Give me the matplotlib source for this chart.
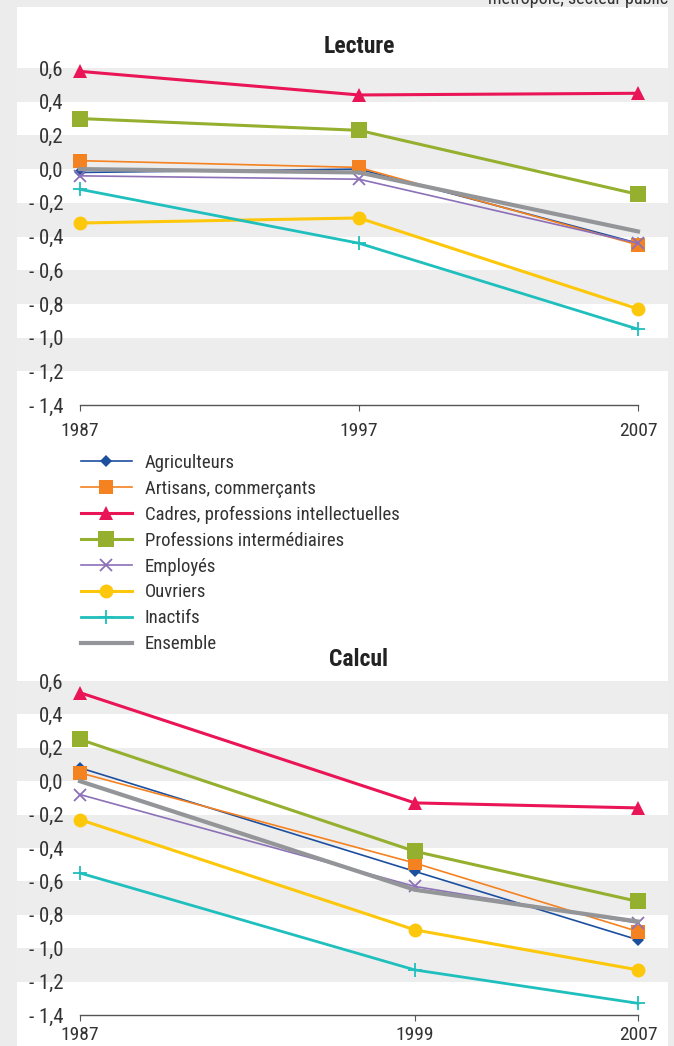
import matplotlib
matplotlib.use('Agg')
import matplotlib.pyplot as plt
from matplotlib.patches import Rectangle
from matplotlib.lines import Line2D

plt.rcParams['font.family'] = ['Liberation Sans Narrow', 'Roboto Condensed', 'DejaVu Sans']
plt.rcParams['font.stretch'] = 'condensed'

# data
categories = ['Agriculteurs', 'Artisans, commerçants', 'Cadres, professions intellectuelles',
              'Professions intermédiaires', 'Employés', 'Ouvriers', 'Inactifs', 'Ensemble']
years_lecture = [1987, 1997, 2007]
years_calcul = [1987, 1999, 2007]

lecture_agri = [-0.02, 0.00, -0.44]
lecture_arti = [0.05, 0.01, -0.45]
lecture_cadres = [0.58, 0.44, 0.45]
lecture_prof = [0.30, 0.23, -0.15]
lecture_empl = [-0.04, -0.06, -0.44]
lecture_ouvr = [-0.32, -0.29, -0.83]
lecture_inact = [-0.12, -0.44, -0.95]
lecture_ens = [0.00, -0.02, -0.37]

calcul_agri = [0.08, -0.54, -0.95]
calcul_arti = [0.05, -0.49, -0.90]
calcul_cadres = [0.53, -0.13, -0.16]
calcul_prof = [0.25, -0.42, -0.72]
calcul_empl = [-0.08, -0.63, -0.85]
calcul_ouvr = [-0.23, -0.89, -1.13]
calcul_inact = [-0.55, -1.13, -1.33]
calcul_ens = [0.00, -0.65, -0.84]

y_ticks = [0.6, 0.4, 0.2, 0.0, -0.2, -0.4, -0.6, -0.8, -1.0, -1.2, -1.4]
y_labels = ['0,6', '0,4', '0,2', '0,0', '- 0,2', '- 0,4', '- 0,6', '- 0,8', '- 1,0', '- 1,2', '- 1,4']

# style per series: color, marker, markersize, linewidth
styles = [
    ('#1d4f9f', 'D', 6, 1.2),
    ('#f58220', 's', 10, 1.2),
    ('#ea1556', '^', 10, 2.2),
    ('#95af2f', 's', 11, 2.2),
    ('#8c70b8', 'x', 9, 1.2),
    ('#fdc70c', 'o', 10, 2.2),
    ('#1fbfbd', '+', 10, 2.0),
    ('#939598', None, 0, 3.0),
]

W, H = 674, 1046
fig = plt.figure(figsize=(W / 100, H / 100), dpi=100)
fig.patch.set_facecolor('#ececec')
fig.patches.append(Rectangle((17 / W, 0), (668 - 17) / W, 1 - 7 / H,
                             transform=fig.transFigure, facecolor='white',
                             edgecolor='none', zorder=-10))
fig.text(668 / W, 1.0 - 4 / H, 'métropole, secteur public', ha='right', va='baseline',
         fontsize=13, color='#333333')

left = 80 / W
width = (638 - 80) / W
band_x0 = (17 - 80) / (638 - 80)
band_x1 = (668 - 80) / (638 - 80)


def draw_panel(ax, years, series, title, xpad):
    ax.set_xlim(1987, 2007)
    ax.set_ylim(-1.4, 0.6)
    ax.set_facecolor('none')
    for lo in [0.4, 0.0, -0.4, -0.8, -1.2]:
        ax.axhspan(lo, lo + 0.2, xmin=band_x0, xmax=band_x1, facecolor='#ededed',
                   edgecolor='none', clip_on=False, zorder=0)
    for vals, (c, m, ms, lw) in zip(series, styles):
        ax.plot(years, vals, color=c, marker=m, markersize=ms, linewidth=lw,
                markeredgewidth=1.3 if m in ('x', '+') else 0, clip_on=False, zorder=3)
    for s in ['top', 'right', 'left']:
        ax.spines[s].set_visible(False)
    ax.spines['bottom'].set_color('#555555')
    ax.spines['bottom'].set_linewidth(1.0)
    ax.set_yticks(y_ticks)
    ax.set_yticklabels(y_labels)
    ax.set_xticks(years)
    ax.set_xticklabels([str(y) for y in years])
    ax.tick_params(axis='y', length=0, pad=12, labelsize=15, labelcolor='#333333')
    ax.tick_params(axis='x', length=4, color='#555555', pad=xpad, labelsize=14,
                   labelcolor='#333333')
    ax.set_title(title, fontsize=17, fontweight='bold', pad=11, color='#222222')


ax1 = fig.add_axes([left, 1 - 405 / H, width, (405 - 68) / H])
draw_panel(ax1, years_lecture,
           [lecture_agri, lecture_arti, lecture_cadres, lecture_prof,
            lecture_empl, lecture_ouvr, lecture_inact, lecture_ens], 'Lecture', 8)

ax2 = fig.add_axes([left, 1 - 1015 / H, width, (1015 - 681) / H])
draw_panel(ax2, years_calcul,
           [calcul_agri, calcul_arti, calcul_cadres, calcul_prof,
            calcul_empl, calcul_ouvr, calcul_inact, calcul_ens], 'Calcul', 4)

handles = [Line2D([], [], color=c, marker=m, markersize=ms, linewidth=lw,
                  markeredgewidth=1.3 if m in ('x', '+') else 0)
           for (c, m, ms, lw) in styles]
fig.legend(handles, categories, loc='upper left', bbox_to_anchor=(81 / W, 1 - 454 / H),
           frameon=False, fontsize=13.5, handlelength=2.7, handletextpad=0.7,
           labelspacing=0.42, borderpad=0, borderaxespad=0, labelcolor='#333333')

fig.savefig('out.png', dpi=100, facecolor=fig.get_facecolor())
